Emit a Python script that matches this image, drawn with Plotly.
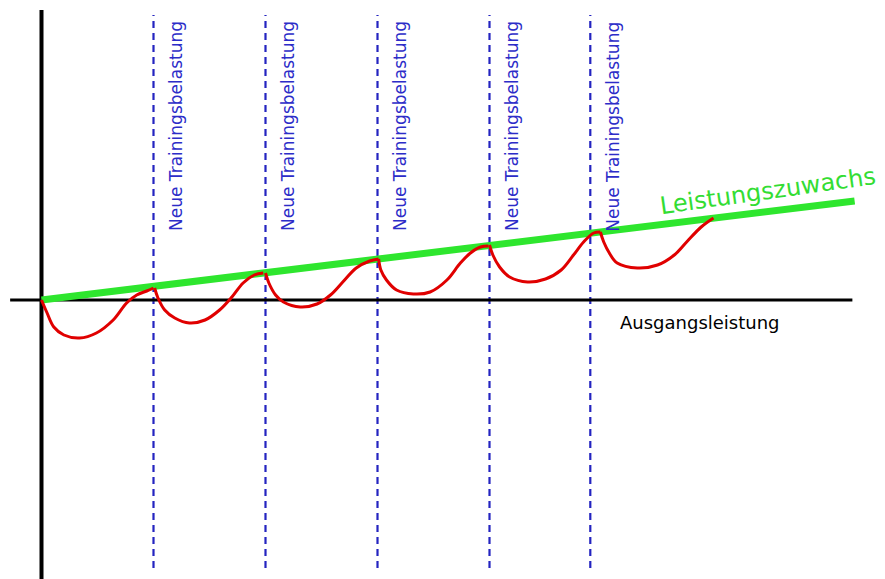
import plotly.graph_objects as go

# --- data (schematic units: x = time, y = performance relative to baseline) ---
red_x = [0.00, 0.05, 0.11, 0.20, 0.34, 0.49, 0.64, 0.76, 0.85, 0.94, 1.00, None,
         1.01, 1.04, 1.10, 1.19, 1.32, 1.46, 1.59, 1.70, 1.80, 1.90, 1.98, None,
         2.00, 2.03, 2.09, 2.16, 2.31, 2.46, 2.58, 2.69, 2.81, 2.93, 3.01, None,
         3.01, 3.03, 3.08, 3.17, 3.32, 3.47, 3.62, 3.74, 3.83, 3.92, 3.99, None,
         4.00, 4.03, 4.09, 4.18, 4.34, 4.50, 4.64, 4.75, 4.84, 4.93, 4.99, None,
         4.99, 5.02, 5.07, 5.14, 5.32, 5.50, 5.65, 5.76, 5.89, 6.00]
red_y = [0.00, -0.13, -0.27, -0.35, -0.38, -0.33, -0.20, -0.03, 0.05, 0.09, 0.12, None,
         0.12, 0.02, -0.10, -0.18, -0.23, -0.20, -0.10, 0.03, 0.17, 0.25, 0.27, None,
         0.27, 0.17, 0.05, -0.02, -0.07, -0.04, 0.05, 0.18, 0.32, 0.39, 0.41, None,
         0.41, 0.30, 0.20, 0.10, 0.06, 0.08, 0.20, 0.37, 0.47, 0.53, 0.54, None,
         0.55, 0.45, 0.33, 0.23, 0.18, 0.21, 0.30, 0.45, 0.58, 0.67, 0.68, None,
         0.68, 0.58, 0.47, 0.37, 0.32, 0.35, 0.45, 0.58, 0.73, 0.82]

green_x = [0.0, 7.26]
green_y = [0.0, 0.99]

load_x = [1.0, 2.0, 3.0, 4.0, 4.9]
load_label = "Neue Trainingsbelastung"
baseline_label = "Ausgangsleistung"
gain_label = "Leistungszuwachs"

y_axis_top = 2.9
y_bottom = -2.79
dash_top = 2.85
dash_bottom = -2.68
base_x = [-0.28, 7.24]

fig = go.Figure()

# vertical dashed lines
for lx in load_x:
    fig.add_trace(go.Scatter(x=[lx, lx], y=[dash_bottom, dash_top], mode="lines",
                             line=dict(color="#2424c0", width=2.2, dash="7px,5px"),
                             hoverinfo="skip", showlegend=False))

# axes lines
fig.add_trace(go.Scatter(x=[0, 0], y=[y_bottom, y_axis_top], mode="lines",
                         line=dict(color="black", width=4), showlegend=False, hoverinfo="skip"))
fig.add_trace(go.Scatter(x=base_x, y=[0, 0], mode="lines",
                         line=dict(color="black", width=3), showlegend=False, hoverinfo="skip"))

# green gain line
fig.add_trace(go.Scatter(x=green_x, y=green_y, mode="lines",
                         line=dict(color="#2ee62e", width=7), showlegend=False, hoverinfo="skip"))

# red supercompensation curve
fig.add_trace(go.Scatter(x=red_x, y=red_y, mode="lines",
                         line=dict(color="#e00000", width=3, shape="spline", smoothing=1.0),
                         connectgaps=False, showlegend=False, hoverinfo="skip"))

for lx in load_x:
    fig.add_annotation(x=lx, y=1.735, text=load_label, showarrow=False, textangle=-90,
                       xshift=22, xanchor="center", yanchor="middle",
                       font=dict(family="DejaVu Sans", size=17, color="#2c2cc8"))

fig.add_annotation(x=5.88, y=-0.22, text=baseline_label, showarrow=False,
                   xanchor="center", yanchor="middle",
                   font=dict(family="DejaVu Sans", size=18, color="black"))

fig.add_annotation(x=6.49, y=1.09, text=gain_label, showarrow=False, textangle=-8,
                   xanchor="center", yanchor="middle",
                   font=dict(family="DejaVu Sans", size=24, color="#33dd33"))

# page body has an 8px margin: size the figure to the remaining viewport
fig.update_layout(
    width=877, height=571,
    margin=dict(l=0, r=0, t=0, b=0),
    paper_bgcolor="white", plot_bgcolor="white",
    xaxis=dict(range=[-0.29911, 7.53125], visible=False, fixedrange=True),
    yaxis=dict(range=[-2.79, 2.92], visible=False, fixedrange=True),
    showlegend=False,
)

fig.write_html("out.html")
